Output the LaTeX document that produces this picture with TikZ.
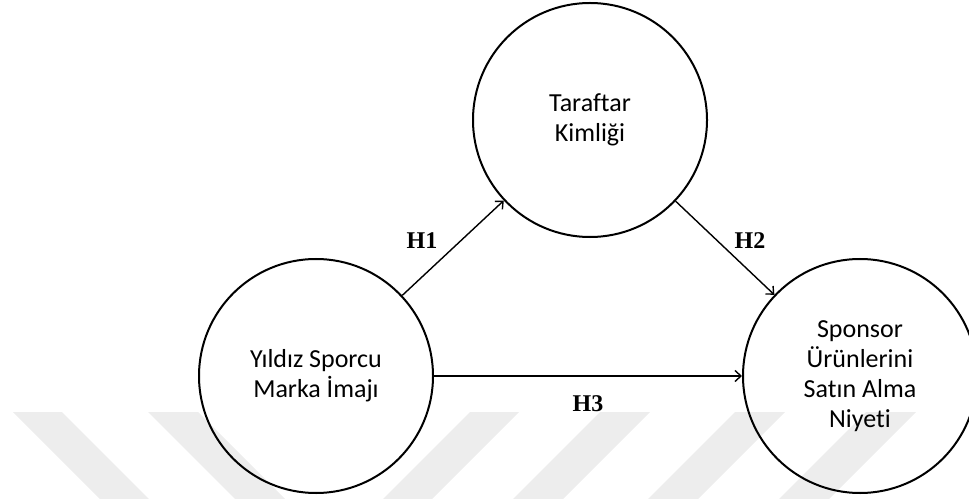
\documentclass[tikz,border=0pt]{standalone}
\usepackage{fontspec}
\setmainfont{Carlito}[Ligatures=NoCommon]
\newfontfamily\hypfont{Liberation Serif}
\usetikzlibrary{arrows.meta}
\begin{document}
\begin{tikzpicture}[x=1bp,y=-1bp,
  construct/.style={circle, draw, line width=2bp, minimum size=234bp, inner sep=0pt,
    align=center, font=\fontsize{26bp}{30bp}\selectfont},
  link/.style={line width=1.4bp, -{Straight Barb[length=6bp,width=11bp,line width=1.4bp]}},
  hyp/.style={font=\hypfont\bfseries\fontsize{24bp}{28bp}\selectfont, inner sep=0pt},
  band/.style={fill=black!7, draw=none}]
\useasboundingbox (0,0) rectangle (969,499);
% light diagonal bands along the bottom
\fill[band] (13,412) -- (62,412) -- (149,499) -- (100,499) -- cycle;
\fill[band] (148,412) -- (198,412) -- (285,499) -- (235,499) -- cycle;
\fill[band] (470,412) -- (519,412) -- (432,499) -- (383,499) -- cycle;
\fill[band] (600,412) -- (650,412) -- (563,499) -- (513,499) -- cycle;
\fill[band] (735,412) -- (785,412) -- (698,499) -- (648,499) -- cycle;
\fill[band] (866,412) -- (916,412) -- (829,499) -- (779,499) -- cycle;
% constructs
\node[construct] (brand) at (316,376) {Yıldız Sporcu\\Marka İmajı};
\node[construct] (fan) at (590,120) {Taraftar\\Kimliği};
\node[construct] (intent) at (860,376) {Sponsor\\Ürünlerini\\Satın Alma\\Niyeti};
% hypothesised paths
\draw[link] (brand) -- (fan);
\draw[link] (fan) -- (intent);
\draw[link] (brand) -- (intent);
\node[hyp] (h1) at (422,241) {H1};
\node[hyp] (h2) at (750,241) {H2};
\node[hyp] (h3) at (588,404) {H3};
\end{tikzpicture}
\end{document}
